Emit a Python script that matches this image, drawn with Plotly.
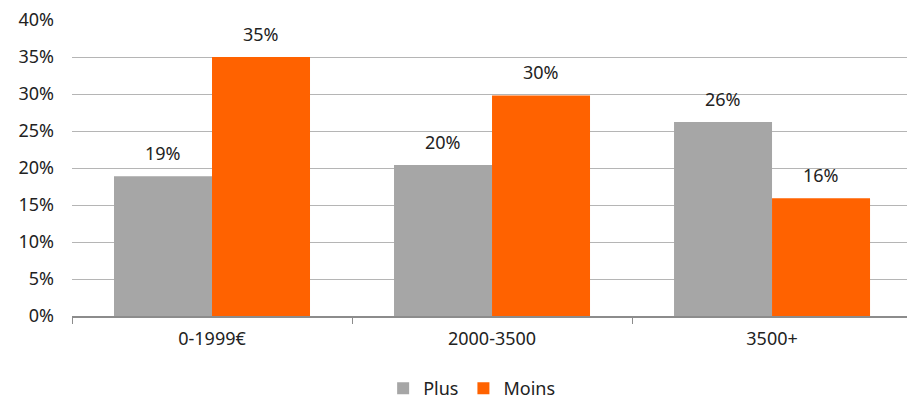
import plotly.graph_objects as go

categories = ["0-1999€", "2000-3500", "3500+"]
plus = [0.189, 0.204, 0.262]
moins = [0.35, 0.298, 0.159]
y_ticks = [0, 0.05, 0.10, 0.15, 0.20, 0.25, 0.30, 0.35, 0.40]

GREY = "#a6a6a6"
ORANGE = "#ff6200"
TEXT = "#222222"
FONT = "Noto Sans"
SIZE = 18

fig = go.Figure()
fig.add_bar(name="Plus", x=categories, y=plus, marker=dict(color=GREY, line=dict(width=0)))
fig.add_bar(name="Moins", x=categories, y=moins, marker=dict(color=ORANGE, line=dict(width=0)))

# value labels above each bar, shifted to the bar's place inside its group
group_px = 280
bar_offset = 0.35 * group_px / 2
for series, shift in ((plus, -bar_offset), (moins, bar_offset)):
    for cat, val in zip(categories, series):
        fig.add_annotation(
            x=cat, y=val, text=f"{val:.0%}", showarrow=False,
            xshift=shift, yshift=9, yanchor="bottom",
            font=dict(family=FONT, size=SIZE, color=TEXT),
        )

fig.update_layout(
    width=907, height=402,
    margin=dict(l=72, r=0, t=20, b=86, autoexpand=False),
    paper_bgcolor="white", plot_bgcolor="white",
    barmode="group", bargap=0.3, bargroupgap=0,
    font=dict(family=FONT, size=SIZE, color=TEXT),
    showlegend=True,
    legend=dict(orientation="h", x=0.52, xanchor="center", xref="container",
                y=-0.245, yanchor="middle", yref="paper",
                font=dict(family=FONT, size=SIZE, color=TEXT), itemwidth=30,
                traceorder="normal"),
)
fig.update_xaxes(
    range=[-0.5, 2.482], showgrid=False, showline=True, linecolor="#8c8c8c", linewidth=1.5,
    ticks="outside", tickson="boundaries", ticklen=6, tickcolor="#8c8c8c",
    ticklabelstandoff=6,
    tickfont=dict(family=FONT, size=SIZE, color=TEXT), fixedrange=True,
)
fig.update_yaxes(
    range=[0, 0.40], tickvals=y_ticks, tickformat=".0%",
    showgrid=True, gridcolor="#b5b5b5", gridwidth=1.2, zeroline=False,
    showline=False, ticks="", ticklabelstandoff=17,
    tickfont=dict(family=FONT, size=SIZE, color=TEXT),
)

fig.write_html("out.html")
